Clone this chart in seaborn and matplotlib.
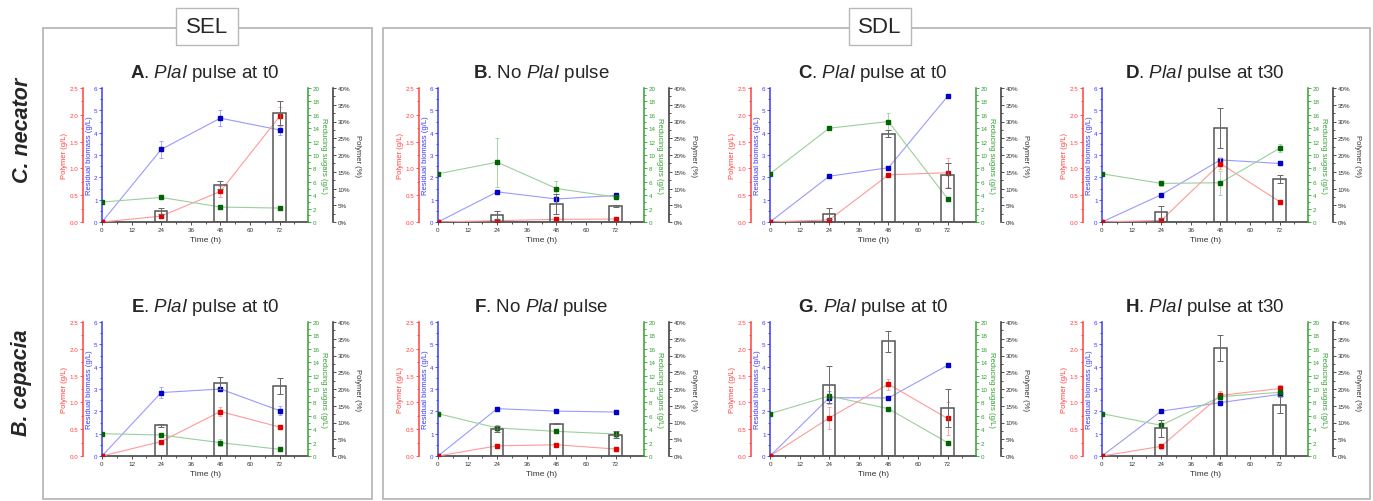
import matplotlib
matplotlib.use('Agg')
import matplotlib.pyplot as plt
import seaborn as sns
from matplotlib.patches import Rectangle
from matplotlib.ticker import MultipleLocator, FuncFormatter, AutoMinorLocator

# ---- data ----
time = [0, 24, 48, 72]
bar_time = [24, 48, 72]

titles = {
    'A': r'$\mathbf{A}$. $\mathit{PlaI}$ pulse at t0',
    'B': r'$\mathbf{B}$. No $\mathit{PlaI}$ pulse',
    'C': r'$\mathbf{C}$. $\mathit{PlaI}$ pulse at t0',
    'D': r'$\mathbf{D}$. $\mathit{PlaI}$ pulse at t30',
    'E': r'$\mathbf{E}$. $\mathit{PlaI}$ pulse at t0',
    'F': r'$\mathbf{F}$. No $\mathit{PlaI}$ pulse',
    'G': r'$\mathbf{G}$. $\mathit{PlaI}$ pulse at t0',
    'H': r'$\mathbf{H}$. $\mathit{PlaI}$ pulse at t30',
}

# residual biomass (g/L)
biomass = {
    'A': [0, 3.25, 4.65, 4.12], 'B': [0, 1.35, 1.03, 1.19],
    'C': [0, 2.05, 2.43, 5.63], 'D': [0, 1.22, 2.78, 2.62],
    'E': [0, 2.84, 3.00, 2.03], 'F': [0, 2.12, 2.01, 1.97],
    'G': [0, 2.61, 2.60, 4.06], 'H': [0, 2.01, 2.39, 2.76],
}
biomass_err = {
    'A': [0, 0.37, 0.37, 0.22], 'B': [0, 0.06, 0.10, 0.08],
    'C': [0, 0.03, 0.03, 0.03], 'D': [0, 0.06, 0.08, 0.08],
    'E': [0, 0.24, 0.10, 0.20], 'F': [0, 0.03, 0.03, 0.05],
    'G': [0, 0.30, 0.05, 0.03], 'H': [0, 0.05, 0.10, 0.10],
}
# polymer (g/L)
polymer = {
    'A': [0, 0.11, 0.57, 1.97], 'B': [0, 0.025, 0.05, 0.055],
    'C': [0, 0.04, 0.88, 0.92], 'D': [0, 0.03, 1.09, 0.38],
    'E': [0, 0.27, 0.83, 0.54], 'F': [0, 0.19, 0.21, 0.13],
    'G': [0, 0.71, 1.34, 0.70], 'H': [0, 0.18, 1.13, 1.26],
}
polymer_err = {
    'A': [0, 0.03, 0.11, 0.17], 'B': [0, 0.01, 0.02, 0.01],
    'C': [0, 0.02, 0.02, 0.27], 'D': [0, 0.01, 0.10, 0.03],
    'E': [0, 0.02, 0.09, 0.02], 'F': [0, 0.01, 0.01, 0.01],
    'G': [0, 0.20, 0.10, 0.30], 'H': [0, 0.05, 0.08, 0.06],
}
# reducing sugars (g/L)
sugars = {
    'A': [2.98, 3.67, 2.23, 2.08], 'B': [7.2, 8.93, 5.0, 3.72],
    'C': [7.2, 14.0, 15.0, 3.47], 'D': [7.2, 5.76, 5.86, 11.0],
    'E': [3.33, 3.13, 1.99, 1.0], 'F': [6.32, 4.18, 3.68, 3.28],
    'G': [6.32, 8.96, 7.06, 1.99], 'H': [6.32, 4.58, 8.86, 9.5],
}
sugars_err = {
    'A': [0.1, 0.15, 0.3, 0.15], 'B': [0.1, 3.67, 1.1, 0.3],
    'C': [0.1, 0.2, 1.2, 0.2], 'D': [0.1, 0.4, 1.8, 0.6],
    'E': [0.1, 0.3, 0.5, 0.2], 'F': [0.1, 0.5, 0.3, 0.5],
    'G': [0.1, 0.3, 0.2, 0.1], 'H': [0.1, 0.3, 0.3, 0.3],
}
# polymer content (%)
pct = {
    'A': [3.3, 11.1, 32.5], 'B': [2.2, 5.5, 4.9],
    'C': [2.5, 26.4, 13.9], 'D': [3.0, 28.1, 12.7],
    'E': [9.15, 21.7, 20.9], 'F': [8.06, 9.65, 6.37],
    'G': [21.3, 34.2, 14.3], 'H': [8.26, 32.2, 15.3],
}
pct_err = {
    'A': [1.0, 1.2, 3.5], 'B': [1.2, 3.0, 0.3],
    'C': [1.7, 1.0, 3.7], 'D': [1.7, 6.0, 1.2],
    'E': [0.5, 1.8, 2.4], 'F': [1.0, 0.1, 1.0],
    'G': [5.5, 3.1, 5.7], 'H': [2.5, 3.8, 2.6],
}

# ---- style ----
sns.set_theme(style='ticks')
plt.rcParams['font.family'] = ['Liberation Sans', 'DejaVu Sans']
plt.rcParams['mathtext.fontset'] = 'custom'
plt.rcParams['mathtext.rm'] = 'Liberation Sans'
plt.rcParams['mathtext.it'] = 'Liberation Sans:italic'
plt.rcParams['mathtext.bf'] = 'Liberation Sans:bold'

RED, RED_L = '#e00000', '#ff9a9a'
BLUE, BLUE_L = '#0000c8', '#9a9aff'
GREEN, GREEN_L = '#006400', '#9ccf9c'
RED_AX, BLUE_AX, GREEN_AX, DARK = '#ff4040', '#3a3aff', '#33a033', '#333333'

W, H = 1373, 502
fig = plt.figure(figsize=(W / 100, H / 100), dpi=100)


def fx(px):
    return px / W


def fy(py):
    return 1 - py / H


def style_y(a, color, step, fmt, label, side, lpad):
    a.set_ylim(0, step[1])
    a.yaxis.set_major_locator(MultipleLocator(step[0]))
    a.yaxis.set_minor_locator(AutoMinorLocator(2))
    a.yaxis.set_major_formatter(FuncFormatter(fmt))
    a.tick_params(axis='y', which='both', colors=color, labelsize=4.5, width=0.6, pad=1)
    a.tick_params(axis='y', which='major', length=2.2)
    a.tick_params(axis='y', which='minor', length=1.2)
    for s in a.spines.values():
        s.set_visible(False)
    a.spines[side].set_visible(True)
    a.spines[side].set_color(color)
    a.spines[side].set_linewidth(1.1)
    if side == 'left':
        a.set_ylabel(label, color=color, fontsize=5.5, labelpad=lpad)
    else:
        a.set_ylabel(label, color=color, fontsize=5.5, labelpad=lpad, rotation=270, va='bottom')


def draw_panel(key, left_px, top_px):
    ax = fig.add_axes([fx(left_px), fy(top_px + 134), 206 / W, 134 / H])
    ax.set_xlim(0, 83.5)
    ax.xaxis.set_major_locator(MultipleLocator(12))
    ax.xaxis.set_minor_locator(MultipleLocator(6))
    ax.tick_params(axis='x', which='both', colors=DARK, labelsize=4.5, width=0.6, pad=1.5)
    ax.tick_params(axis='x', which='major', length=2.2)
    ax.tick_params(axis='x', which='minor', length=1.2)
    ax.set_xlabel('Time (h)', fontsize=6, color=DARK, labelpad=3)
    style_y(ax, BLUE_AX, (1, 6), lambda v, p: f'{v:.0f}', 'Residual biomass (g/L)', 'left', 1)
    ax.spines['bottom'].set_visible(True)
    ax.spines['bottom'].set_color(DARK)
    ax.spines['bottom'].set_linewidth(1.1)

    axr = ax.twinx()
    axr.yaxis.tick_left()
    axr.yaxis.set_label_position('left')
    style_y(axr, RED_AX, (0.5, 2.5), lambda v, p: f'{v:.1f}', 'Polymer (g/L)', 'left', 1)
    axr.spines['left'].set_position(('outward', 14))

    axg = ax.twinx()
    style_y(axg, GREEN_AX, (2, 20), lambda v, p: f'{v:.0f}', 'Reducing sugars (g/L)', 'right', 0.3)

    axp = ax.twinx()
    style_y(axp, DARK, (5, 40), lambda v, p: f'{v:.0f}%', 'Polymer (%)', 'right', 3)
    axp.spines['right'].set_position(('outward', 18))

    # polymer % bars
    axp.bar(bar_time, pct[key], width=5, facecolor='none', edgecolor='#555555', lw=1.1,
            yerr=pct_err[key], error_kw=dict(ecolor='#666666', elinewidth=0.7, capsize=2, capthick=0.7))

    series = [(ax, biomass, biomass_err, BLUE, BLUE_L),
              (axr, polymer, polymer_err, RED, RED_L),
              (axg, sugars, sugars_err, GREEN, GREEN_L)]
    for a, vals, errs, c, cl in series:
        sns.lineplot(x=time, y=vals[key], ax=a, color=cl, lw=0.8)
        a.errorbar(time, vals[key], yerr=errs[key], fmt='s', ms=3.2, color=c, mec=c,
                   ecolor=cl, elinewidth=0.6, capsize=1.5, capthick=0.6)

    ax.set_title(titles[key], fontsize=13.5, pad=8)


lefts = [102, 438, 770, 1102]
for i, k in enumerate('ABCD'):
    draw_panel(k, lefts[i], 89)
for i, k in enumerate('EFGH'):
    draw_panel(k, lefts[i], 323)

# group frames
for x0, x1 in [(43, 372), (383, 1370)]:
    fig.patches.append(Rectangle((fx(x0), fy(500)), (x1 - x0) / W, (500 - 29) / H,
                                 transform=fig.transFigure, fill=False,
                                 edgecolor='#b8b8b8', lw=1.3))
for cx, txt in [(207, 'SEL'), (880, 'SDL')]:
    fig.patches.append(Rectangle((fx(cx - 31), fy(46)), 62 / W, 37 / H,
                                 transform=fig.transFigure, facecolor='white',
                                 edgecolor='#b8b8b8', lw=1.0, zorder=5))
    fig.text(fx(cx), fy(27.5), txt, ha='center', va='center', fontsize=16, zorder=6)

# row labels
fig.text(fx(22), fy(130), 'C. necator', rotation=90, ha='center', va='center',
         fontsize=15.5, fontweight='bold', fontstyle='italic')
fig.text(fx(22), fy(383), 'B. cepacia', rotation=90, ha='center', va='center',
         fontsize=15.5, fontweight='bold', fontstyle='italic')

fig.savefig('out.png', dpi=100)
